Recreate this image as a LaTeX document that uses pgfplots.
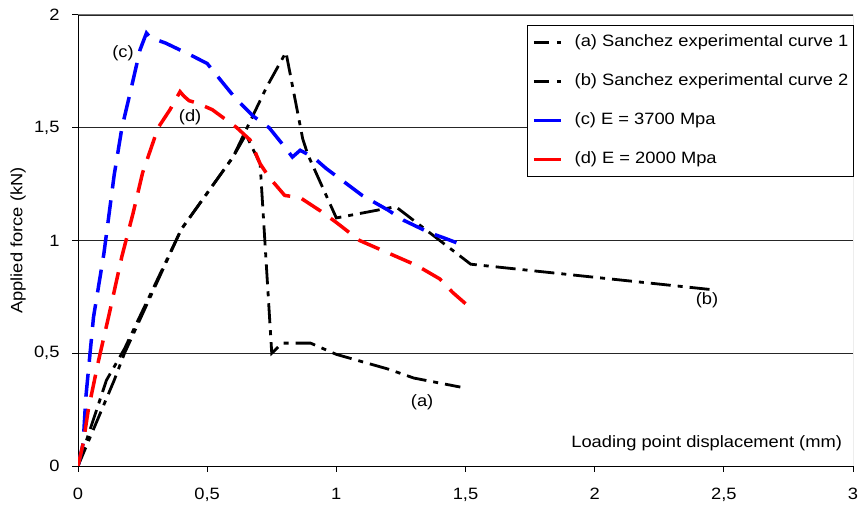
\documentclass[border=0pt]{standalone}
\usepackage{pgfplots}
\pgfplotsset{compat=1.18}
\usepackage{fontspec}
\setmainfont[FakeStretch=1.116]{Liberation Sans}
\newcommand\chartfont{\fontsize{16.4bp}{20bp}\selectfont}
\begin{document}
\begin{tikzpicture}[font=\chartfont]
\useasboundingbox (-78bp,-40bp) rectangle (781bp,466bp);
\begin{axis}[
  scale only axis, width=775bp, height=451bp,
  xmin=0, xmax=3, ymin=0, ymax=2,
  xtick={0,0.5,1,1.5,2,2.5,3},
  ytick={0,0.5,1,1.5,2},
  axis x line*=bottom, axis y line*=left,
  axis line style={black, line width=1bp},
  tick align=outside, major tick length=5.5bp,
  tick style={black, line width=1bp},
  ymajorgrids,
  grid style={black!85, line width=0.9bp},
  /pgf/number format/.cd, use comma, assume math mode=true, /pgfplots/.cd,
  ticklabel style={font=\chartfont},
  xticklabel style={yshift=-13.5bp},
  yticklabel style={xshift=-9.5bp},
  xlabel={Loading point displacement (mm)},
  xlabel style={at={(rel axis cs:0.986,0.04)}, anchor=base east, inner sep=0pt},
  ylabel={Applied force (kN)},
  ylabel style={at={(axis description cs:-0.0774,0.5)}, anchor=center, inner sep=0pt},
  legend cell align=left,
  legend image code/.code={\draw[#1] (0bp,0bp) -- (27bp,0bp);},
  legend style={at={(rel axis cs:0.579,0.978)}, anchor=north west,
    draw=black, line width=1bp, fill=white,
    inner xsep=5bp, inner ysep=8.5bp,
    nodes={inner sep=0pt, text height=13bp, text depth=4bp},
    column sep=12bp, row sep=22bp, font=\chartfont},
]
\draw[black!55, line width=1bp] (rel axis cs:0,1) -- (rel axis cs:1,1) -- (rel axis cs:1,0);

% (a) Sanchez experimental curve 1
\addplot[black, line width=2.8bp, dash pattern=on 20bp off 7bp on 5bp off 7bp, forget plot] coordinates {
(0,0) (0.11,0.38) (0.18,0.52) (0.4,1.05) (0.6,1.37) (0.65,1.47) (0.705,1.34)
(0.75,0.50) (0.79,0.545) (0.9,0.545) (1.0,0.495) (1.2,0.43) (1.3,0.39) (1.48,0.35)};
% (b) Sanchez experimental curve 2
\addplot[black, line width=2.8bp, dash pattern=on 20bp off 7bp on 5bp off 7bp, forget plot] coordinates {
(0,0) (0.14,0.38) (0.18,0.5) (0.4,1.05) (0.6,1.37) (0.73,1.68) (0.805,1.835)
(0.87,1.45) (0.89,1.38) (1.0,1.10) (1.23,1.15) (1.52,0.895) (2.47,0.78)};
% (c) E = 3700 Mpa
\addplot[blue, line width=3.5bp, dash pattern=on 23bp off 12bp, forget plot] coordinates {
(0,0) (0.02,0.1) (0.03,0.3) (0.06,0.66) (0.1,0.94) (0.14,1.29) (0.17,1.5) (0.205,1.67)
(0.24,1.845) (0.265,1.92) (0.28,1.9) (0.34,1.875) (0.44,1.82) (0.5,1.785) (0.56,1.70)
(0.61,1.63) (0.68,1.55) (0.74,1.50) (0.80,1.415) (0.83,1.37) (0.86,1.40) (0.91,1.37)
(0.96,1.32) (1.1,1.2) (1.2,1.135) (1.26,1.09) (1.36,1.035) (1.42,1.01) (1.5,0.975)};
% (d) E = 2000 Mpa
\addplot[red, line width=3.5bp, dash pattern=on 23bp off 12bp, forget plot] coordinates {
(0,0) (0.02,0.1) (0.04,0.25) (0.08,0.47) (0.12,0.67) (0.17,0.93) (0.213,1.12) (0.25,1.30)
(0.31,1.50) (0.356,1.58) (0.395,1.66) (0.41,1.64) (0.43,1.62) (0.46,1.61) (0.52,1.58)
(0.615,1.50) (0.666,1.446) (0.705,1.34) (0.74,1.28) (0.8,1.2) (0.86,1.19) (0.94,1.13)
(1.0,1.08) (1.09,1.0) (1.15,0.97) (1.25,0.92) (1.31,0.89) (1.4,0.83) (1.45,0.77) (1.5,0.72)};

\addlegendimage{black, line width=2.8bp, dash pattern=on 15bp off 8bp on 4bp off 20bp}
\addlegendentry{(a) Sanchez experimental curve 1}
\addlegendimage{black, line width=2.8bp, dash pattern=on 15bp off 8bp on 4bp off 20bp}
\addlegendentry{(b) Sanchez experimental curve 2}
\addlegendimage{blue, line width=3.5bp}
\addlegendentry{(c) E = 3700 Mpa}
\addlegendimage{red, line width=3.5bp}
\addlegendentry{(d) E = 2000 Mpa}

\node at (axis cs:0.174,1.83) {(c)};
\node at (axis cs:0.434,1.548) {(d)};
\node at (axis cs:1.332,0.284) {(a)};
\node at (axis cs:2.435,0.736) {(b)};
\end{axis}
\end{tikzpicture}
\end{document}
